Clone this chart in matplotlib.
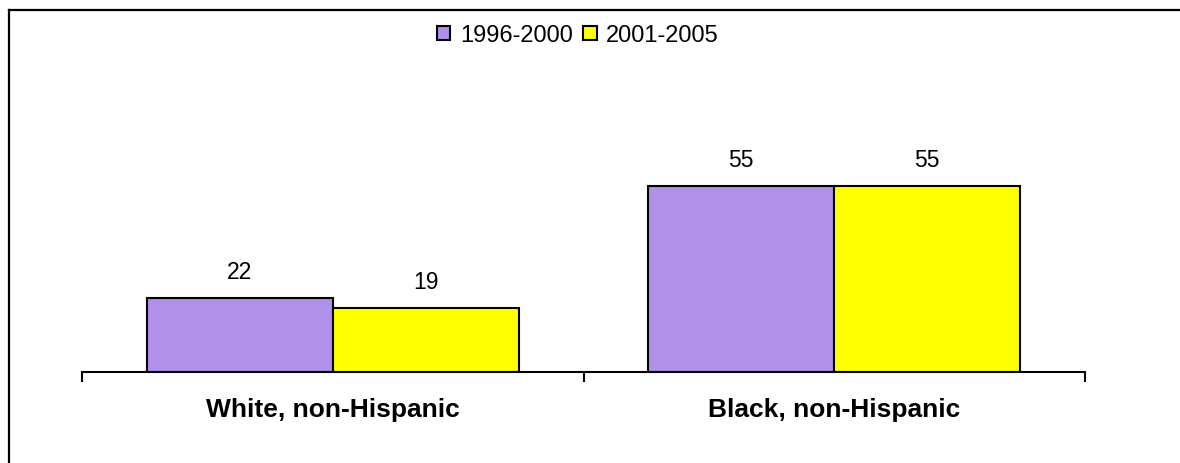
import matplotlib
matplotlib.use("Agg")
import matplotlib.pyplot as plt
from matplotlib.lines import Line2D
from matplotlib.patches import Patch
import numpy as np

plt.rcParams['font.family'] = ['Liberation Sans', 'DejaVu Sans']

# data
groups = ["White, non-Hispanic", "Black, non-Hispanic"]
periods = ["1996-2000", "2001-2005"]
vals_9600 = [22, 55]
vals_0105 = [19, 55]
colors = ["#B190EC", "#FFFF00"]

fig = plt.figure(figsize=(11.8, 4.63), dpi=100)
ax = fig.add_axes([82 / 1180, 91 / 463, 1003 / 1180, 202.4 / 463])

x = np.arange(len(groups))
w = 0.371
for i, (vals, lab) in enumerate(zip([vals_9600, vals_0105], periods)):
    pos = x + (i - 0.5) * w
    bars = ax.bar(pos, vals, width=w, color=colors[i], edgecolor="black",
                  linewidth=1.5, label=lab, zorder=2)
    for b, v in zip(bars, vals):
        ax.annotate(str(v), (b.get_x() + b.get_width() / 2, v),
                    xytext=(0, 18.5), textcoords="offset points",
                    ha="center", va="center", fontsize=16.5)

ax.set_xlim(-0.5, 1.5)
ax.set_ylim(0, 60)
for s in ["top", "right", "left"]:
    ax.spines[s].set_visible(False)
ax.spines["bottom"].set_linewidth(1.5)
ax.set_yticks([])
ax.set_xticks([-0.5, 0.5, 1.5])
ax.set_xticklabels([])
ax.tick_params(axis="x", which="major", direction="out", length=7.5, width=1.5)
ax.set_xticks(x, minor=True)
ax.set_xticklabels(groups, minor=True, fontsize=19, fontweight="bold")
ax.tick_params(axis="x", which="minor", length=0, pad=19)

handles = [Patch(facecolor=c, edgecolor="black", linewidth=1.5) for c in colors]
fig.legend(handles, periods, loc="center", bbox_to_anchor=(578 / 1180, 1 - 35.5 / 463),
           ncol=2, frameon=False, fontsize=17, handlelength=0.57, handleheight=0.57,
           handletextpad=0.4, columnspacing=0.45, borderaxespad=0, borderpad=0)

# chart frame (only top and left edge fall inside the picture)
fig.add_artist(Line2D([8.5 / 1180, 8.5 / 1180], [0, 1 - 9.5 / 463], color="black", lw=1.6))
fig.add_artist(Line2D([8.5 / 1180, 1], [1 - 9.5 / 463, 1 - 9.5 / 463], color="black", lw=1.6))

fig.savefig("out.png", dpi=100)
